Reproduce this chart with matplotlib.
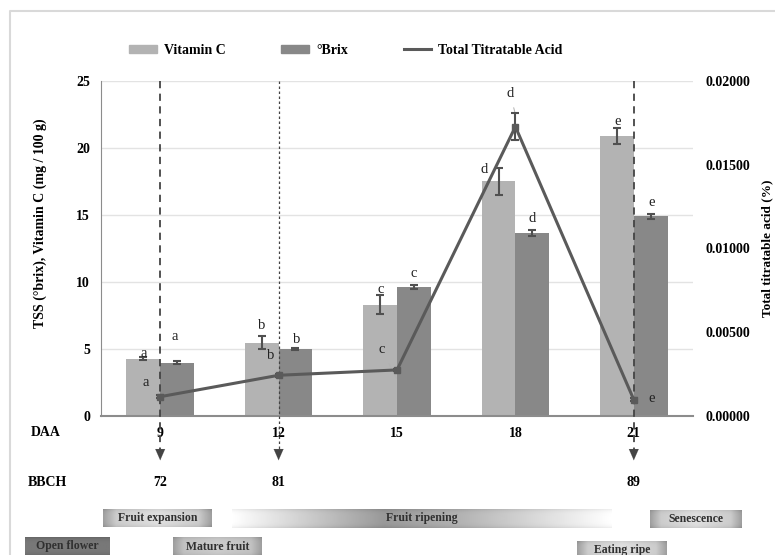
import numpy as np
import matplotlib
matplotlib.use('Agg')
import matplotlib.pyplot as plt
from matplotlib.lines import Line2D
from matplotlib.patches import Patch

plt.rcParams['font.family'] = ['Liberation Serif', 'DejaVu Serif']

daa = ['9', '12', '15', '18', '21']
bbch = {0: '72', 1: '81', 4: '89'}
vit_c = [4.25, 5.45, 8.3, 17.5, 20.9]
vit_c_err = [0.12, 0.5, 0.7, 1.0, 0.6]
brix = [3.95, 4.97, 9.6, 13.65, 14.9]
brix_err = [0.1, 0.08, 0.15, 0.2, 0.2]
tta = [0.00113, 0.00241, 0.00273, 0.01727, 0.00095]
tta_err = [0.00008, 0.00008, 0.00008, 0.0008, 0.0001]

# significance letters: (text, x, y) in left-axis data units
letters = [('a', -0.14, 4.65), ('a', 0.125, 5.9), ('b', 0.86, 6.7), ('b', 1.15, 5.65),
           ('c', 1.865, 9.4), ('c', 2.145, 10.6), ('d', 2.74, 18.4), ('d', 3.145, 14.7),
           ('e', 3.86, 22.0), ('e', 4.15, 15.95)]
tta_letters = [('a', -0.12, 2.5, 0, 1.1), ('b', 0.935, 4.5, 1, 2.35), ('c', 1.87, 4.95, 2, 2.7),
               ('d', 2.955, 24.1, 3, 22.5), ('e', 4.15, 1.25, None, None)]

c_vit = '#b3b3b3'
c_brix = '#888888'
c_line = '#5a5a5a'
c_err = '#505050'

fig = plt.figure(figsize=(7.75, 5.55), dpi=100)

# overlay in pixel coordinates for the stage bands and row labels
ov = fig.add_axes([0, 0, 1, 1])
ov.axis('off')
ov.plot([10, 10, 775], [555, 11, 11], color='#d9d9d9', lw=1.5)

ax = fig.add_axes([101 / 775, 1 - 415.6 / 555, 592 / 775, 334.6 / 555])
x = np.arange(len(daa))
w = 0.285
ax.bar(x - w / 2, vit_c, w, color=c_vit, zorder=2)
ax.bar(x + w / 2, brix, w, color=c_brix, zorder=2)
ax.errorbar(x - w / 2, vit_c, yerr=vit_c_err, fmt='none', ecolor=c_err, capsize=3, elinewidth=1.5, capthick=1.5, zorder=3)
ax.errorbar(x + w / 2, brix, yerr=brix_err, fmt='none', ecolor=c_err, capsize=3, elinewidth=1.5, capthick=1.5, zorder=3)
ax.set_xlim(-0.5, 4.5)
ax.set_ylim(0, 25)
ax.set_yticks(range(0, 26, 5))
ax.yaxis.grid(True, color='#e3e3e3', lw=1, zorder=0)
ax.set_axisbelow(True)
ax.set_xticks(x)
ax.set_xticklabels(daa, fontsize=10, fontweight='bold')
ax.tick_params(axis='both', length=0, labelsize=10)
ax.tick_params(axis='x', pad=8)
ax.tick_params(axis='y', pad=8)
for lab in ax.get_yticklabels():
    lab.set_fontweight('bold')
for s in ['top', 'right']:
    ax.spines[s].set_visible(False)
ax.spines['left'].set_color('#8c8c8c')
ax.spines['bottom'].set_color('#8c8c8c')
ax.spines['bottom'].set_linewidth(1.5)
ax.set_ylabel('TSS (°brix), Vitamin C (mg / 100 g)', fontsize=10, fontweight='bold')
ax.yaxis.set_label_coords(-54 / 592, 0.576)

ax2 = ax.twinx()
ax2.errorbar(x, tta, yerr=tta_err, color=c_line, lw=2.2, marker='s', ms=4, ecolor=c_err,
             capsize=3, elinewidth=1.5, capthick=1.5, zorder=4)
ax2.set_ylim(0, 0.02)
ax2.set_yticks(np.arange(0, 0.0201, 0.005))
ax2.set_yticklabels(['%.5f' % v for v in np.arange(0, 0.0201, 0.005)], fontsize=10, fontweight='bold')
ax2.tick_params(length=0, pad=9)
for s in ax2.spines.values():
    s.set_visible(False)
ax2.set_ylabel('Total titratable acid (%)', fontsize=9.5, fontweight='bold')
ax2.yaxis.set_label_coords(1 + 68 / 592, 0.5)

for t, lx, ly in letters:
    ax.text(lx, ly, t, ha='center', va='center', fontsize=10.5, color='#222222', zorder=5)
for t, lx, ly, px, py in tta_letters:
    if px is not None:
        ax.annotate(t, xy=(px, py), xytext=(lx, ly), ha='center', va='center', fontsize=10.5,
                    color='#222222', zorder=5,
                    arrowprops=dict(arrowstyle='-', color='#b0b0b0', lw=0.7, shrinkA=4, shrinkB=1))
    else:
        ax.text(lx, ly, t, ha='center', va='center', fontsize=10.5, color='#222222', zorder=5)

# stage markers: dashed lines from the top of the plot down to arrows
trans = ax.get_xaxis_transform()
for xi, dash, lw in [(0, (4, 3), 1.3), (1, (2, 2), 0.9), (4, (4, 3), 1.3)]:
    ax.plot([xi, xi], [1, -0.105], transform=trans, color='#444444', lw=lw,
            ls=(0, dash), clip_on=False, zorder=6)
    ax.annotate('', xy=(xi, -0.142), xytext=(xi, -0.10), xycoords=trans, textcoords=trans,
                arrowprops=dict(arrowstyle='-|>,head_width=0.35,head_length=0.8', color='#444444', lw=0.1))

for xi, lab in bbch.items():
    px = 101 + (xi + 0.5) * 118.4
    ov.text(px, 483, lab, ha='center', va='center', fontsize=10, fontweight='bold')
ov.text(46, 433, 'DAA', ha='center', va='center', fontsize=10, fontweight='bold')
ov.text(47, 483, 'BBCH', ha='center', va='center', fontsize=10, fontweight='bold')

# growth stage bands
def band(x0, x1, y0, y1, tpos, gvals, label):
    t = np.linspace(0, 1, 200)
    g = np.interp(t, tpos, gvals)
    img = np.tile(g, (20, 1))
    vy = np.linspace(-1, 1, 20)[:, None]
    img = img - 0.06 * vy ** 4
    ov.imshow(img, extent=(x0, x1, y1, y0), cmap='gray', vmin=0, vmax=1, aspect='auto',
              interpolation='bilinear', zorder=1)
    ov.text((x0 + x1) / 2, (y0 + y1) / 2, label, ha='center', va='center', fontsize=8.5,
            fontweight='bold', color='#303030', zorder=2)

edge = ([0, 0.12, 0.5, 0.88, 1], [0.62, 0.8, 0.88, 0.8, 0.62])
band(103, 212, 509, 527, *edge, 'Fruit expansion')
band(232, 612, 509, 528, [0, 0.4, 0.6, 1], [1.0, 0.6, 0.7, 1.0], 'Fruit ripening')
band(650, 742, 510, 528, *edge, 'Senescence')
band(25, 110, 537, 556, [0, 1], [0.47, 0.47], 'Open flower')
band(173, 262, 537, 556, [0, 0.12, 0.5, 0.88, 1], [0.62, 0.76, 0.8, 0.76, 0.62], 'Mature fruit')
band(577, 667, 541, 558, *edge, 'Eating ripe')
ov.set_xlim(0, 775)
ov.set_ylim(555, 0)

handles = [Patch(color=c_vit), Patch(color=c_brix), Line2D([], [], color=c_line, lw=2.2)]
fig.legend(handles, ['Vitamin C', '°Brix', 'Total Titratable Acid'], loc='center',
           bbox_to_anchor=(346 / 775, 1 - 50 / 555), ncol=3, frameon=False,
           prop={'weight': 'bold', 'size': 10}, handlelength=2.0, handleheight=0.5,
           handletextpad=0.5, columnspacing=4.0)

fig.savefig('out.png', dpi=100)
